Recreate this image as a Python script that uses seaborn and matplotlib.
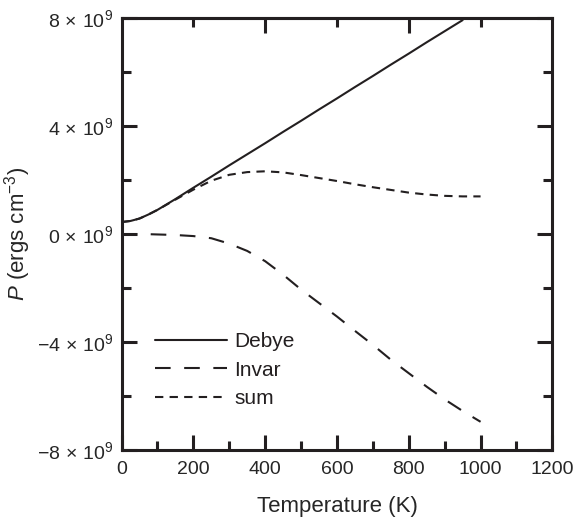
import numpy as np
import pandas as pd
import matplotlib
matplotlib.use("Agg")
import matplotlib.pyplot as plt
from matplotlib.ticker import MultipleLocator, FixedLocator, FuncFormatter
import seaborn as sns

# Data, pressures in units of 1e9 ergs cm^-3
temp_debye = [0, 25, 50, 75, 100, 150, 200, 250, 300, 350, 400, 450, 500,
              550, 600, 650, 700, 750, 800, 850, 900, 950]
p_debye = [0.45, 0.49, 0.58, 0.73, 0.9, 1.3, 1.72, 2.13, 2.55, 2.96, 3.37, 3.79, 4.2,
           4.62, 5.03, 5.45, 5.86, 6.28, 6.69, 7.11, 7.52, 7.93]

temp = [0, 25, 50, 75, 100, 150, 200, 250, 300, 350, 400, 450, 500,
        550, 600, 650, 700, 750, 800, 850, 900, 950, 1000]
p_invar = [0.0, 0.0, 0.0, 0.0, -0.01, -0.03, -0.07, -0.15, -0.35, -0.62, -1.0, -1.5, -2.05,
           -2.55, -3.05, -3.58, -4.1, -4.65, -5.15, -5.65, -6.12, -6.55, -6.95]
p_sum = [0.45, 0.49, 0.58, 0.73, 0.9, 1.28, 1.65, 1.98, 2.2, 2.3, 2.33, 2.29, 2.19,
         2.08, 1.97, 1.85, 1.74, 1.64, 1.54, 1.47, 1.42, 1.4, 1.4]

scale = 1e9
df_debye = pd.DataFrame({"T": temp_debye, "P": np.array(p_debye) * scale})
df_invar = pd.DataFrame({"T": temp, "P": np.array(p_invar) * scale})
df_sum = pd.DataFrame({"T": temp, "P": np.array(p_sum) * scale})

sns.set_style("ticks")
plt.rcParams['font.family'] = ['Liberation Sans', 'DejaVu Sans']
plt.rcParams['mathtext.fontset'] = 'custom'
plt.rcParams['mathtext.rm'] = 'Liberation Sans'
plt.rcParams['mathtext.it'] = 'Liberation Sans:italic'
plt.rcParams['text.color'] = '#231f20'

fig = plt.figure(figsize=(5.76, 5.21), dpi=100)
ax = fig.add_axes([0.211, 0.136, 0.748, 0.829])

lw = 1.5
sns.lineplot(data=df_debye, x="T", y="P", ax=ax, color="#231f20", lw=lw,
             label="Debye", linestyle="-")
sns.lineplot(data=df_invar, x="T", y="P", ax=ax, color="#231f20", lw=lw,
             label="Invar", linestyle=(0, (7.5, 6.5)))
sns.lineplot(data=df_sum, x="T", y="P", ax=ax, color="#231f20", lw=lw,
             label="sum", linestyle=(0, (4.0, 3.0)))

ax.set_xlim(0, 1200)
ax.set_ylim(-8e9, 8e9)

ax.xaxis.set_major_locator(MultipleLocator(200))
ax.xaxis.set_minor_locator(MultipleLocator(100))
ax.yaxis.set_major_locator(MultipleLocator(4e9))
ax.yaxis.set_minor_locator(MultipleLocator(2e9))


def fmt_y(v, pos):
    n = int(round(v / scale))
    sign = "-" if n < 0 else ""
    return r"$%s%d\,\times\,10^{9}$" % (sign, abs(n))


ax.yaxis.set_major_formatter(FuncFormatter(fmt_y))

for s in ax.spines.values():
    s.set_linewidth(2.2)
    s.set_color("#231f20")

ax.tick_params(which="both", direction="in", width=2.2, color="#231f20",
               labelsize=14, right=True)
ax.tick_params(which="major", length=11)
ax.tick_params(axis="x", which="major", pad=8)
ax.tick_params(axis="y", which="major", pad=6)
ax.tick_params(which="minor", length=6.5)

# top axis carries its own sparse ticks in the reference
top = ax.secondary_xaxis("top")
top.xaxis.set_major_locator(FixedLocator([400, 800]))
top.xaxis.set_minor_locator(FixedLocator([200, 600, 1000]))
top.tick_params(which="both", direction="in", width=2.2, color="#231f20",
                labeltop=False)
top.tick_params(which="major", length=11)
top.tick_params(which="minor", length=6.5)
top.spines["top"].set_linewidth(2.2)

ax.set_xlabel("Temperature (K)", fontsize=16, labelpad=13)
ax.set_ylabel(r"$P$ (ergs cm$^{-3}$)", fontsize=16, labelpad=3)

ax.legend(loc="upper left", bbox_to_anchor=(0.078, 0.273), frameon=False,
          borderpad=0, borderaxespad=0,
          fontsize=15, handlelength=3.45, handletextpad=0.35, labelspacing=0.45)

fig.savefig("out.png", dpi=100)
